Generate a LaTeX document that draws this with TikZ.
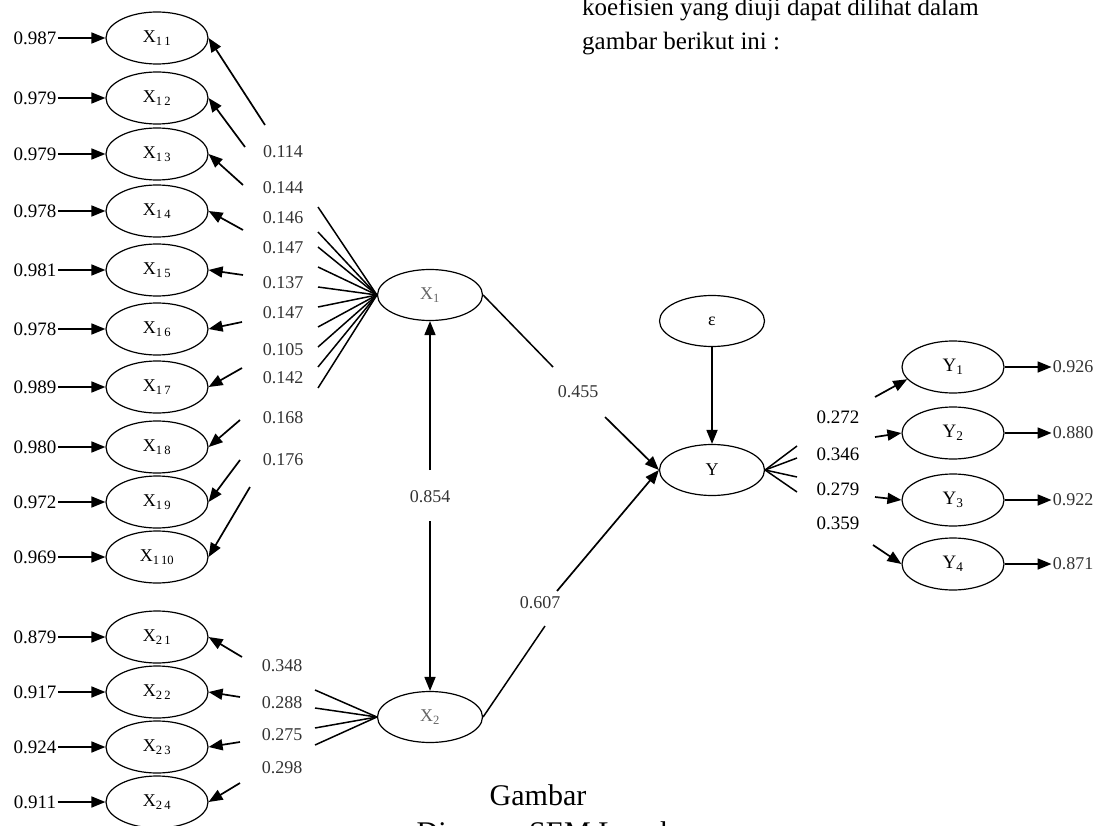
\documentclass[tikz,border=0pt]{standalone}
\usepackage{fontspec}
\setmainfont{Liberation Serif}
\usetikzlibrary{shapes.geometric,arrows.meta}
\begin{document}
\begin{tikzpicture}[x=1pt,y=-1pt,
  ind/.style={ellipse,draw,line width=1.2pt,minimum width=102pt,minimum height=52pt,inner sep=0pt,font=\fontsize{18}{18}\selectfont},
  lat/.style={ind,minimum width=105pt,minimum height=51pt,text=black!60},
  num/.style={inner sep=1.5pt,font=\fontsize{19}{19}\selectfont},
  coef/.style={inner sep=1pt,font=\fontsize{18}{18}\selectfont,text=black!80},
  arr/.style={line width=1.7pt,-{Triangle[length=14pt,width=11pt]}},
  ln/.style={line width=1.5pt},
  txt/.style={inner sep=0pt,anchor=base west,font=\fontsize{25}{25}\selectfont},
  captxt/.style={inner sep=0pt,anchor=base,font=\fontsize{30}{30}\selectfont}
]
\useasboundingbox (0,0) rectangle (1099,826);

% heading text
\node[txt] (h1) at (582,16) {koefisien yang diuji dapat dilihat dalam};
\node[txt] (h2) at (582,50) {gambar berikut ini :};

% indicators of X1 and X2 with their error terms
\foreach \n/\yy/\s/\e in {11/38/{1\,1}/0.987, 12/98/{1\,2}/0.979, 13/154/{1\,3}/0.979,
    14/211/{1\,4}/0.978, 15/270/{1\,5}/0.981, 16/329/{1\,6}/0.978, 17/387/{1\,7}/0.989,
    18/447/{1\,8}/0.980, 19/502/{1\,9}/0.972, 110/557/{1\,10}/0.969,
    21/637/{2\,1}/0.879, 22/692/{2\,2}/0.917, 23/747/{2\,3}/0.924, 24/802/{2\,4}/0.911} {
  \node[ind] (x\n) at (157,\yy) {X\textsubscript{\s}};
  \node[num] (e\n) at (35,\yy) {\e};
  \draw[arr] (e\n) -- (x\n);
}

% latent variables
\node[lat] (x1) at (430,295) {X\textsubscript{1}};
\node[lat] (x2) at (430,717) {X\textsubscript{2}};
\node[lat,text=black] (eps) at (712,321) {ε};
\node[lat,text=black] (y) at (712,470) {Y};

% loadings of X1
\foreach \n/\fy/\sx/\sy/\ly/\c in {11/207/265/125/152/0.114, 12/232/245/147/188/0.144,
    13/247/243/185/218/0.146, 14/267/243/230/248/0.147, 15/287/243/275/283/0.137,
    16/307/242/322/313/0.147, 17/327/242/368/350/0.105, 18/347/240/420/378/0.142,
    19/367/240/460/418/0.168, 110/388/250/487/460/0.176} {
  \coordinate (f\n) at (318,\fy);
  \coordinate (s\n) at (\sx,\sy);
  \draw[ln] (x1.west) -- (f\n);
  \node[coef] (c\n) at (283,\ly) {\c};
  \draw[arr] (s\n) -- (x\n.east);
}

% loadings of X2
\foreach \n/\fy/\sx/\sy/\ly/\c in {21/690/242/657/666/0.348, 22/708/240/697/703/0.288,
    23/728/240/742/735/0.275, 24/745/240/783/768/0.298} {
  \coordinate (f\n) at (315,\fy);
  \coordinate (s\n) at (\sx,\sy);
  \draw[ln] (x2.west) -- (f\n);
  \node[coef] (c\n) at (282,\ly) {\c};
  \draw[arr] (s\n) -- (x\n.east);
}

% correlation X1 <-> X2
\coordinate (b1) at (430,470);
\coordinate (b2) at (430,521);
\node[coef] (c854) at (430,497) {0.854};
\draw[arr] (b1) -- (x1);
\draw[arr] (b2) -- (x2);

% paths to Y
\coordinate (p1) at (553,367);
\coordinate (p2) at (605,417);
\draw[ln] (x1.east) -- (p1);
\node[coef] (c455) at (578,392) {0.455};
\draw[arr] (p2) -- (y.west);

\coordinate (q1) at (545,626);
\coordinate (q2) at (557,591);
\draw[ln] (x2.east) -- (q1);
\node[coef] (c607) at (540,603) {0.607};
\draw[arr] (q2) -- (y.west);

\draw[arr] (eps) -- (y);

% indicators of Y
\foreach \n/\yy/\ry/\sx/\sy/\ly/\c/\o/\tg in {1/367/446/875/397/417/0.272/0.926/195,
    2/433/458/875/437/454/0.346/0.880/180, 3/500/477/875/497/489/0.279/0.922/180,
    4/564/492/873/545/523/0.359/0.871/180} {
  \node[ind,font=\fontsize{19}{19}\selectfont] (y\n) at (953,\yy) {Y\textsubscript{\n}};
  \coordinate (r\n) at (797,\ry);
  \draw[ln] (y.east) -- (r\n);
  \node[num] (k\n) at (838,\ly) {\c};
  \coordinate (t\n) at (\sx,\sy);
  \draw[arr] (t\n) -- (y\n.\tg);
  \node[coef] (o\n) at (1073,\yy) {\o};
  \draw[arr] (y\n.east) -- (o\n.west);
}

% caption
\node[captxt] (g1) at (538,805) {Gambar};
\node[captxt] (g2) at (560,842) {Diagram SEM Lengkap};
\end{tikzpicture}
\end{document}
